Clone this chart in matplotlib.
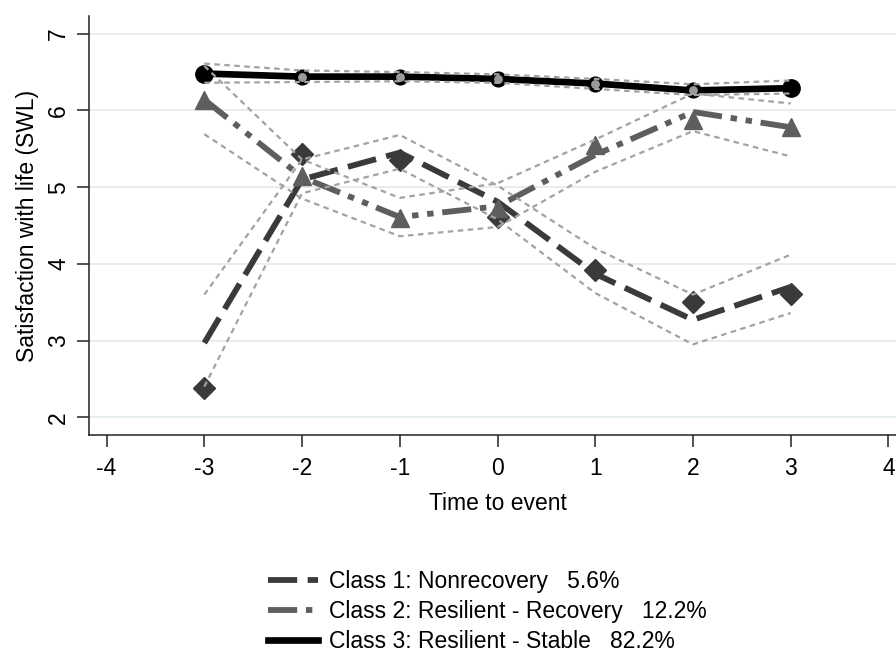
import numpy as np
import matplotlib
matplotlib.use("Agg")
import matplotlib.pyplot as plt
from matplotlib.lines import Line2D

plt.rcParams['font.family'] = ['Liberation Sans', 'DejaVu Sans']

# time points relative to the event
t = np.array([-3, -2, -1, 0, 1, 2, 3])

# Class 1: Nonrecovery (estimated line, observed means, CI)
c1_fit = np.array([2.97, 5.10, 5.45, 4.81, 3.87, 3.27, 3.70])
c1_obs = np.array([2.38, 5.43, 5.35, 4.61, 3.92, 3.50, 3.61])
c1_hi = np.array([3.60, 5.36, 5.68, 5.02, 4.20, 3.60, 4.12])
c1_lo = np.array([2.40, 4.92, 5.24, 4.58, 3.62, 2.95, 3.36])

# Class 2: Resilient - Recovery
c2_fit = np.array([6.14, 5.13, 4.61, 4.75, 5.42, 5.98, 5.78])
c2_obs = np.array([6.14, 5.14, 4.60, 4.73, 5.55, 5.88, 5.79])
c2_hi = np.array([6.58, 5.36, 4.86, 5.05, 5.62, 6.22, 6.09])
c2_lo = np.array([5.69, 4.85, 4.36, 4.48, 5.20, 5.73, 5.40])

# Class 3: Resilient - Stable
c3_fit = np.array([6.48, 6.44, 6.44, 6.41, 6.35, 6.26, 6.29])
c3_obs = np.array([6.48, 6.44, 6.44, 6.41, 6.35, 6.26, 6.29])
c3_hi = np.array([6.61, 6.52, 6.50, 6.47, 6.41, 6.34, 6.39])
c3_lo = np.array([6.36, 6.37, 6.38, 6.36, 6.28, 6.20, 6.22])

labels = ["Class 1: Nonrecovery   5.6%",
          "Class 2: Resilient - Recovery   12.2%",
          "Class 3: Resilient - Stable   82.2%"]

xticks = [-4, -3, -2, -1, 0, 1, 2, 3, 4]
yticks = [2, 3, 4, 5, 6, 7]

col1, col2, col3 = "#3a3a3a", "#5e5e5e", "#000000"
ci_col = "#a2a2a2"
ls1 = (0, (5.0, 1.8))
ls2 = (0, (5.0, 1.5, 1.1, 1.5, 1.1, 1.5))
ci_ls = (0, (2.5, 2.0))
fs = 16.5

fig = plt.figure(figsize=(8.96, 6.57), dpi=100)
ax = fig.add_axes([89 / 896, 222 / 657, 817 / 896, 419 / 657])

# fitted trajectories
ax.plot(t, c1_fit, color=col1, lw=4.2, ls=ls1, dash_capstyle="butt", zorder=3)
ax.plot(t, c2_fit, color=col2, lw=4.2, ls=ls2, dash_capstyle="butt", zorder=3)
ax.plot(t, c3_fit, color=col3, lw=4.8, zorder=3)

# observed means
ax.plot(t, c1_obs, ls="none", marker="D", ms=11, color=col1, zorder=4)
ax.plot(t, c2_obs, ls="none", marker="^", ms=13, color=col2, zorder=4)
ax.plot(t[[0, -1]], c3_obs[[0, -1]], ls="none", marker="o", ms=12.5, color=col3, zorder=4)
ax.plot(t[1:-1], c3_obs[1:-1], ls="none", marker="o", ms=9, mfc="#9a9a9a",
        mec=col3, mew=2.6, zorder=4)

# confidence bands
for band in (c1_hi, c1_lo, c2_hi, c2_lo, c3_hi, c3_lo):
    ax.plot(t, band, color=ci_col, lw=1.6, ls=ci_ls, zorder=5)

ax.set_xlim(-4.18, 4.18)
ax.set_ylim(1.77, 7.23)
ax.set_xticks(xticks)
ax.set_yticks(yticks)
ax.set_xticklabels([str(v) for v in xticks])
ax.tick_params(axis="both", direction="out", length=8.5, width=1.1, colors="#222222",
               labelsize=fs, pad=7, labelcolor="black")
ax.tick_params(axis="y", pad=5)
for lab in ax.get_yticklabels():
    lab.set_rotation(90)
    lab.set_va("center")
ax.grid(axis="y", color="#e2ebee", lw=1.2)
ax.set_axisbelow(True)
for side in ("top", "right"):
    ax.spines[side].set_visible(False)
for side in ("left", "bottom"):
    ax.spines[side].set_linewidth(1.1)
    ax.spines[side].set_color("#222222")

ax.set_xlabel("Time to event", fontsize=fs, labelpad=9)
ax.set_ylabel("Satisfaction with life (SWL)", fontsize=fs, labelpad=6)

handles = [Line2D([], [], color=col1, lw=4.2, ls=ls1, dash_capstyle="butt"),
           Line2D([], [], color=col2, lw=4.2, ls=ls2, dash_capstyle="butt"),
           Line2D([], [], color=col3, lw=4.8)]
fig.legend(handles, labels, loc="upper left", bbox_to_anchor=(268 / 896, 1 - 570 / 657),
           frameon=False, fontsize=fs, handlelength=2.2, handletextpad=0.45,
           labelspacing=0.3, borderpad=0, borderaxespad=0)

fig.savefig("out.png", dpi=100)
